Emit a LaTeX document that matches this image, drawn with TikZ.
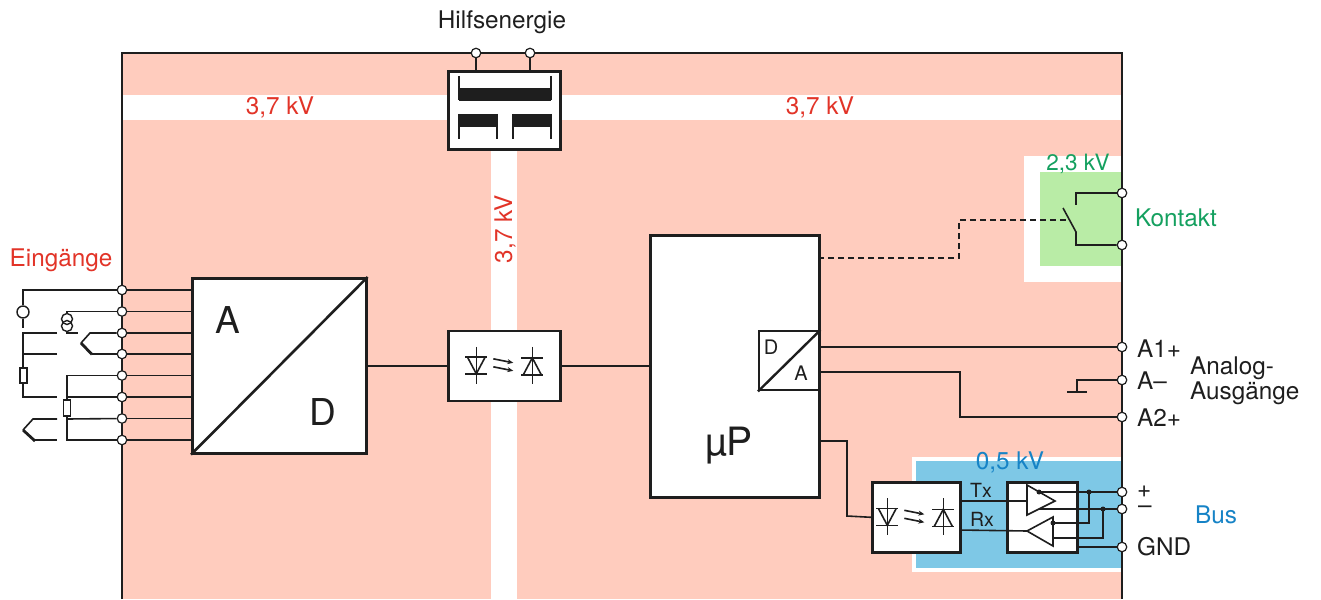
\documentclass[tikz,border=0pt]{standalone}
\usepackage{fontspec}
\setmainfont{TeX Gyre Heros}
\usetikzlibrary{arrows.meta,calc}
\definecolor{pinkbg}{RGB}{255,204,190}
\definecolor{redtxt}{RGB}{226,52,40}
\definecolor{greenbg}{RGB}{185,236,166}
\definecolor{greentxt}{RGB}{20,160,95}
\definecolor{bluebg}{RGB}{126,200,230}
\definecolor{bluetxt}{RGB}{22,131,198}
\definecolor{ink}{RGB}{30,30,30}
\tikzset{
  box/.style={draw=ink, line width=2.6pt, fill=white, inner sep=0pt, anchor=north west, rectangle},
  term/.style={circle, draw=ink, fill=white, line width=1.2pt, minimum size=9.5pt, inner sep=0pt},
  wire/.style={draw=ink, line width=1.6pt},
  thickarm/.style={draw=ink, line width=2.8pt},
  lbl/.style={font=\fontsize{24.3}{27}\selectfont, inner sep=0pt, text=ink},
  big/.style={font=\fontsize{37}{40}\selectfont, inner sep=0pt, text=ink},
  small/.style={font=\fontsize{20}{22}\selectfont, inner sep=0pt, text=ink},
  dotc/.style={circle, fill=ink, minimum size=5pt, inner sep=0pt},
  optosym/.pic={
    \draw[wire] (-28,-19) -- (-28,18);
    \draw[wire] (-39,-9) -- (-17,-9);
    \draw[wire] (-37,-9) -- (-28,8) -- (-19,-9);
    \draw[wire] (-39,8) -- (-17,8);
    \draw[wire] (28,-19) -- (28,18);
    \draw[wire] (17,9) -- (39,9);
    \draw[wire] (19,9) -- (28,-8) -- (37,9);
    \draw[wire] (17,-8) -- (39,-8);
    \draw[wire, -{Stealth[length=6pt,width=5pt]}] (-11,-7) -- (9,-3);
    \draw[wire, -{Stealth[length=6pt,width=5pt]}] (-11,1) -- (9,5);
  }
}
\begin{document}
\begin{tikzpicture}[x=1pt, y=-1pt]
\useasboundingbox (0,0) rectangle (1321,599);
% backgrounds
\fill[pinkbg] (122,53) rectangle (1122,599);
\fill[white] (122,95) rectangle (1122,120);
\fill[white] (491,120) rectangle (517,599);
\fill[white] (1024,156) rectangle (1122,282);
\fill[greenbg] (1040,172) rectangle (1122,266);
\fill[white] (912,457) rectangle (1122,572);
\fill[bluebg] (916,461) rectangle (1122,568);
\draw[wire, line width=1.3pt] (122,599) -- (122,53) -- (1122,53) -- (1122,599);

% boxes
\node[box, minimum width=112pt, minimum height=78pt] (trafo) at (447,70) {};
\node[box, minimum width=174pt, minimum height=175pt] (ad) at (191,277) {};
\node[box, minimum width=112pt, minimum height=70pt] (opto1) at (447,329.5) {};
\node[box, minimum width=169pt, minimum height=262pt] (up) at (649,234) {};
\node[box, line width=2.4pt, minimum width=60pt, minimum height=59pt] (da) at (758,330) {};
\node[box, minimum width=88pt, minimum height=70pt] (opto2) at (871,481) {};
\node[box, minimum width=70pt, minimum height=70pt] (trx) at (1006,481) {};

% transformer internals
\draw[wire] (459,76) -- (459,100);
\draw[wire] (551,76) -- (551,100);
\fill[ink] (459,88) rectangle (551,101);
\fill[ink] (459,114) rectangle (497,127);
\fill[ink] (513,114) rectangle (551,127);
\draw[wire] (459,114) -- (459,139);
\draw[wire] (497,114) -- (497,139);
\draw[wire] (513,114) -- (513,139);
\draw[wire] (551,114) -- (551,139);

% A/D and D/A diagonals
\draw[line width=2.6pt, draw=ink] (ad.south west) -- (ad.north east);
\draw[line width=2.4pt, draw=ink] (da.south west) -- (da.north east);
\node[big] at (228,320) {A};
\node[big] at (323,412) {D};
\node[small] at (771,347) {D};
\node[small] at (801,373) {A};
\node[big, font=\fontsize{39}{42}\selectfont] at (729,446) {µP};

% opto symbols
\pic at (opto1.center) {optosym};
\pic at ($(opto2.center)+(-1,0)$) {optosym};

% terminals
\foreach \n/\y in {1/290,2/311.5,3/333,4/354,5/375.5,6/397,7/418.5,8/440}
  \node[term] (i\n) at (122,\y) {};
\node[term] (h1) at (476,53) {};
\node[term] (h2) at (530,53) {};
\node[term] (k1) at (1122,193) {};
\node[term] (k2) at (1122,245) {};
\node[term] (a1) at (1122,347) {};
\node[term] (am) at (1122,380) {};
\node[term] (a2) at (1122,417) {};
\node[term] (bp) at (1122,492) {};
\node[term] (bm) at (1122,509) {};
\node[term] (bg) at (1122,547) {};

% connectors
\foreach \n in {1,...,8} \draw[wire] (i\n) -- (i\n -| ad.west);
\draw[wire] (h1) -- (h1 |- trafo.north);
\draw[wire] (h2) -- (h2 |- trafo.north);
\draw[wire] (ad.east |- opto1.west) -- (opto1.west);
\draw[wire] (opto1.east) -- (opto1.east -| up.west);
\draw[wire] (a1) -- (a1 -| da.east);
\coordinate (da2) at (818,372);
\draw[wire] (da2) -- (960,372) -- (960,417) -- (a2);
\draw[wire] (am) -- (1077,380) -- (1077,392);
\draw[wire] (1067,392) -- (1087,392);

% Kontakt
\draw[wire] (k1) -- (1076,193) -- (1076,205);
\draw[wire] (k2) -- (1076,245) -- (1076,232) -- (1063,208);
\coordinate (updash) at (818,258);
\draw[wire, dash pattern=on 6pt off 4pt] (updash) -- (959,258) -- (959,220) -- (1069,220);

% Bus
\coordinate (upbus) at (818,441);
\draw[wire] (upbus) -- (847,441) -- (847,516) -- (opto2.west);
\draw[wire] (959,501) -- (1027,501);
\draw[wire] (959,530) -- (1027,531);
\draw[wire, fill=white] (1027,485) -- (1055,501) -- (1027,515) -- cycle;
\draw[wire, fill=white] (1027,531) -- (1053,517) -- (1053,546) -- cycle;
\draw[wire] (1039,492) -- (bp);
\draw[wire] (1039,509) -- (bm);
\draw[wire] (1053,523) -- (1089,523) -- (1089,492);
\draw[wire] (1053,538) -- (1103,538) -- (1103,509);
\draw[wire] (1076,547) -- (bg);
\node[dotc] at (1039,492) {};
\node[dotc] at (1053,523) {};
\node[dotc] at (1089,492) {};
\node[dotc] at (1103,509) {};
\node[font=\fontsize{19.5}{21}\selectfont, inner sep=0pt, text=ink] at (981,490) {Tx};
\node[font=\fontsize{19.5}{21}\selectfont, inner sep=0pt, text=ink] at (982,519) {Rx};

% sensors on the left
\node[circle, draw=ink, line width=1.4pt, minimum size=12pt, inner sep=0pt] (vsrc) at (23,312) {};
\draw[wire] (i1) -| (vsrc);
\draw[wire] (vsrc.south) -- (23,328);
\draw[wire] (67,313.5) |- (i2);
\draw[wire, line width=1.4pt] (67,319) circle[radius=5.5];
\draw[wire, line width=1.4pt] (67,326) circle[radius=5.5];
\draw[wire] (67,331.5) -- (67,333) -- (78,333);
\draw[wire] (i3) -- (90,333) -- (81,343);
\draw[thickarm] (81,343) -- (92,354.5);
\draw[wire] (92,354) -- (i4);
% RTD 1
\draw[wire] (57,333) -- (23,333) -- (23,368);
\draw[wire] (57,354) -- (23,354);
\draw[wire, fill=white] (20,368) rectangle (27,383);
\draw[wire] (23,383) -- (23,397) -- (57,397);
% RTD 2
\draw[wire] (i5) -| (67,400);
\draw[wire, fill=white] (63.5,400) rectangle (70.5,416);
\draw[wire] (67,416) |- (i8);
\draw[wire] (67,397) -- (i6);
\draw[wire] (67,419) -- (i7);
% thermocouple 2
\draw[wire] (57,419) -- (33,419) -- (23,430);
\draw[thickarm] (23,430) -- (35,441);
\draw[wire] (35,440) -- (57,440);

% labels
\node[lbl] at (502,22) {Hilfsenergie};
\node[lbl, text=redtxt] at (280,107) {3,7 kV};
\node[lbl, text=redtxt] at (820,107) {3,7 kV};
\node[lbl, text=redtxt, rotate=90] at (505,229) {3,7 kV};
\node[lbl, text=redtxt] at (61,260) {Eingänge};
\node[lbl, text=greentxt, font=\fontsize{22.5}{24}\selectfont] at (1078,164) {2,3 kV};
\node[lbl, text=greentxt, anchor=west] at (1135,218) {Kontakt};
\node[lbl, text=bluetxt] at (1010,462) {0,5 kV};
\node[lbl, anchor=west] at (1137,349) {A1+};
\node[lbl, anchor=west] at (1137,381) {A–};
\node[lbl, anchor=west] at (1137,418) {A2+};
\node[lbl, anchor=west, align=left, font=\fontsize{24.3}{25}\selectfont] at (1190,381) {Analog-\\Ausgänge};
\node[lbl, anchor=west] at (1137,492) {+};
\node[lbl, anchor=west] at (1138,510) {–};
\node[lbl, anchor=west] at (1137,547) {GND};
\node[lbl, text=bluetxt] at (1216,515) {Bus};
\end{tikzpicture}
\end{document}
